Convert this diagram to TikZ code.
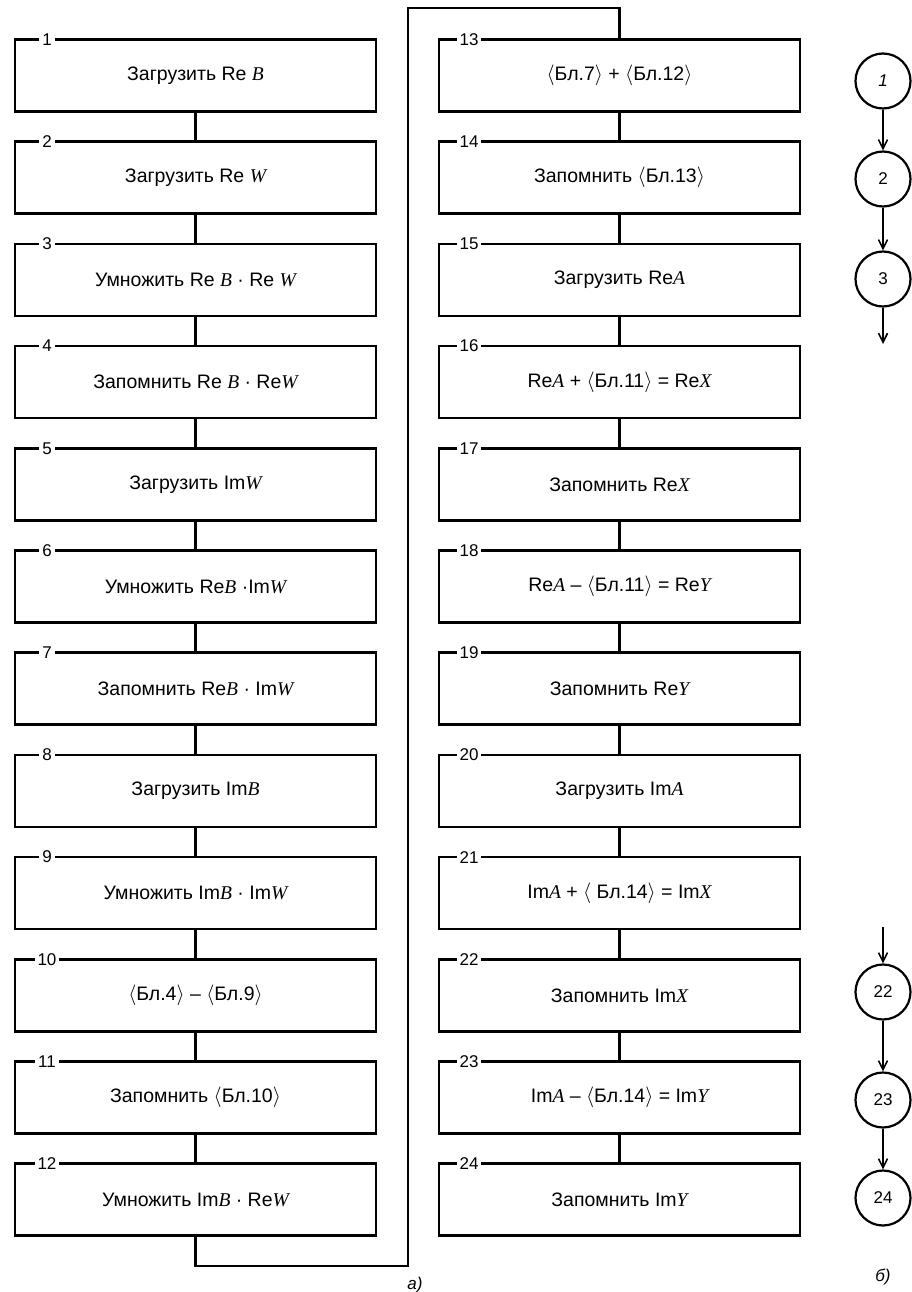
\documentclass[tikz,border=0pt]{standalone}
\usepackage{fontspec}
\setmainfont{Liberation Sans}
\newfontfamily\varfont{Liberation Serif}
\usetikzlibrary{arrows.meta}
\newcommand\mvar[1]{{\varfont\itshape #1}}
\newcommand\angL{\ensuremath{\langle}}
\newcommand\angR{\ensuremath{\rangle}}
\tikzset{
  box/.style={draw, line width=2.5pt, minimum width=361pt, minimum height=72pt,
    inner sep=0pt, outer sep=0pt, font=\fontsize{19.5}{22}\selectfont},
  num/.style={fill=white, inner sep=3pt, font=\fontsize{17}{18}\selectfont},
  conn/.style={line width=2.2pt},
  circ/.style={draw, circle, line width=2.2pt, minimum size=55pt, inner sep=0pt,
    font=\fontsize{17}{18}\selectfont},
  arr/.style={line width=2pt, -{Straight Barb[length=9pt,width=9pt,line width=1.6pt]}},
  captext/.style={font=\fontsize{17}{18}\selectfont\itshape},
}
\begin{document}
\begin{tikzpicture}[x=1pt,y=-1pt]
\useasboundingbox (0,0) rectangle (911,1292);
\foreach \i/\t in {
  1/{Загрузить Re \mvar{B}},
  2/{Загрузить Re \mvar{W}},
  3/{Умножить Re \mvar{B} · Re \mvar{W}},
  4/{Запомнить Re \mvar{B} · Re\mvar{W}},
  5/{Загрузить Im\mvar{W}},
  6/{Умножить Re\mvar{B} ·Im\mvar{W}},
  7/{Запомнить Re\mvar{B} · Im\mvar{W}},
  8/{Загрузить Im\mvar{B}},
  9/{Умножить Im\mvar{B} · Im\mvar{W}},
  10/{\angL Бл.4\angR{} – \angL Бл.9\angR},
  11/{Запомнить \angL Бл.10\angR},
  12/{Умножить Im\mvar{B} · Re\mvar{W}},
  13/{\angL Бл.7\angR{} + \angL Бл.12\angR},
  14/{Запомнить \angL Бл.13\angR},
  15/{Загрузить Re\mvar{A}},
  16/{Re\mvar{A} + \angL Бл.11\angR{} = Re\mvar{X}},
  17/{Запомнить Re\mvar{X}},
  18/{Re\mvar{A} – \angL Бл.11\angR{} = Re\mvar{Y}},
  19/{Запомнить Re\mvar{Y}},
  20/{Загрузить Im\mvar{A}},
  21/{Im\mvar{A} + \angL{} Бл.14\angR{} = Im\mvar{X}},
  22/{Запомнить Im\mvar{X}},
  23/{Im\mvar{A} – \angL Бл.14\angR{} = Im\mvar{Y}},
  24/{Запомнить Im\mvar{Y}}}{
  \pgfmathsetmacro\yy{75.5+mod(\i-1,12)*102.2}
  \pgfmathsetmacro\xx{\i<13 ? 195.5 : 619.5}
  \pgfmathsetmacro\xo{\i<13 ? 32 : 30}
  \node[box] (b\i) at (\xx,\yy) {\t};
  \node[num] (n\i) at ([xshift=\xo pt]b\i.north west) {\i};
}
\foreach \i in {1,...,11,13,14,...,23}{
  \pgfmathtruncatemacro\j{\i+1}
  \draw[conn] (b\i.south) -- (b\j.north);
}
\coordinate (lr) at (408,1266);
\coordinate (rt) at (619.5,8);
\draw[conn] (b12.south) |- (lr) |- (rt) -- (b13.north);
% part b
\node[circ] (c1) at (883,81) {\textit{1}};
\node[circ] (c2) at (883,179) {2};
\node[circ] (c3) at (883,279) {3};
\coordinate (c3o) at (883,344);
\draw[arr] (c1) -- (c2);
\draw[arr] (c2) -- (c3);
\draw[arr] (c3) -- (c3o);
\coordinate (c22i) at (883,927);
\node[circ] (c22) at (883,992) {22};
\node[circ] (c23) at (883,1100) {23};
\node[circ] (c24) at (883,1198) {24};
\draw[arr] (c22i) -- (c22);
\draw[arr] (c22) -- (c23);
\draw[arr] (c23) -- (c24);
\node[captext] (la) at (415,1285) {а)};
\node[captext] (lb) at (883,1277) {б)};
\end{tikzpicture}
\end{document}
